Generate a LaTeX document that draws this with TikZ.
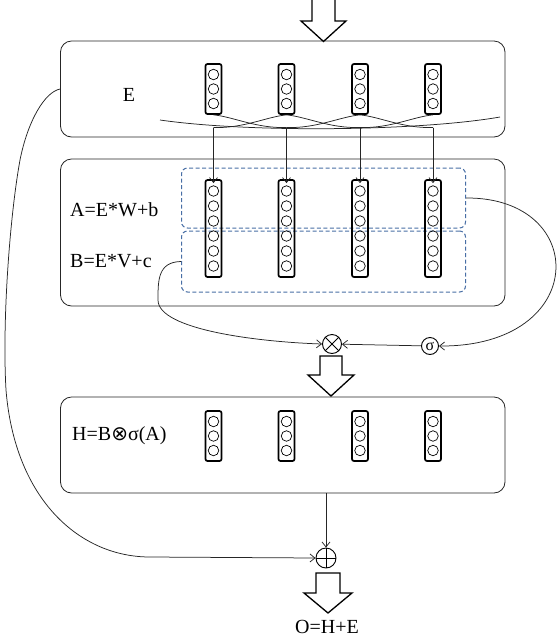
\documentclass[tikz,border=0pt]{standalone}
\usepackage{fontspec}
\setmainfont{Liberation Serif}
\newfontfamily\symfont{DejaVu Sans}
\usetikzlibrary{arrows.meta}
\definecolor{dblue}{RGB}{72,110,165}
\begin{document}
\begin{tikzpicture}[x=1pt,y=-1pt,
  blk/.style={draw=black!85, line width=0.8pt, rounded corners=11pt, minimum width=444.5pt, inner sep=0},
  dbox/.style={draw=dblue, line width=1pt, rounded corners=6pt, dash pattern=on 4pt off 2.5pt, minimum width=284pt, inner sep=0},
  vec/.style={draw=black, line width=1.7pt, rounded corners=2pt, minimum width=16pt, inner sep=0},
  neur/.style={draw, circle, line width=0.7pt, minimum size=10.5pt, inner sep=0},
  conn/.style={line width=0.75pt, draw=black!85},
  arr/.style={conn, -{Straight Barb[length=5pt,width=8pt]}},
  barrow/.style={draw=black, line width=1.3pt, fill=white, line join=miter},
  lbl/.style={font=\fontsize{20}{22}\selectfont, inner sep=0},
  opn/.style={draw, circle, line width=0.9pt, minimum size=19pt, inner sep=0},
]
\useasboundingbox (0,0) rectangle (558,638);

% boxes
\node[blk, minimum height=96pt] (b1) at (282.75,89) {};
\node[blk, minimum height=147pt] (b2) at (282.75,232.5) {};
\node[blk, minimum height=96pt] (b3) at (282.75,445) {};

% dashed groups
\node[dbox, minimum height=60pt] (dA) at (323.5,198) {};
\node[dbox, minimum height=61pt] (dB) at (323.5,261.5) {};

% labels
\node[lbl] (lE) at (129,95) {E};
\node[lbl, anchor=west] (lA) at (70,210) {A=E*W+b};
\node[lbl, anchor=west] (lB) at (70,261) {B=E*V+c};
\node[lbl, anchor=west] (lH) at (72,436) {H=B{\symfont ⊗}σ(A)};
\node[lbl] (lO) at (327,627) {O=H+E};

% vectors
\foreach \x [count=\i] in {213.5,286.5,360,433}{
  \node[vec, minimum height=50pt] (e\i) at (\x,89) {};
  \foreach \y in {74.5,89,103.5} \node[neur] at (\x,\y) {};
  \node[vec, minimum height=97pt] (m\i) at (\x,228.5) {};
  \foreach \y in {191,206,221,236,251,266} \node[neur] at (\x,\y) {};
  \node[vec, minimum height=50pt] (h\i) at (\x,436) {};
  \foreach \y in {421.5,436,450.5} \node[neur] at (\x,\y) {};
  \coordinate (t\i) at (\x,127.5);
  \draw[arr] (t\i) -- ([yshift=-4pt]m\i.north);
}

% crossing curves
\draw[conn] (160,120) .. controls (250,133) and (420,131) .. (500,117);
\foreach \i/\j in {1/2,2/3,3/4}{
  \draw[conn] (e\i.south) .. controls ([xshift=20pt,yshift=-2pt]e\i.south) and ([xshift=-30pt,yshift=-1pt]t\j) .. (t\j);
  \draw[conn] (e\j.south) .. controls ([xshift=-20pt,yshift=-2pt]e\j.south) and ([xshift=30pt,yshift=-1pt]t\i) .. (t\i);
}

% operators
\node[opn] (ot) at (332,344) {};
\draw[line width=0.9pt] (ot.north west) -- (ot.south east) (ot.north east) -- (ot.south west);
\node[opn, minimum size=17pt, font=\fontsize{16}{16}\selectfont] (sg) at (430,346) {σ};
\node[opn, minimum size=20pt] (pl) at (326,558) {};
\draw[line width=0.9pt] (pl.north) -- (pl.south) (pl.west) -- (pl.east);

% connectors
\draw[arr] (sg) -- (ot);
\draw[arr] (dA.east) .. controls (590,197) and (590,347) .. (sg.east);
\draw[arr] (dB.west) .. controls (158,262) and (158,280) .. (158,300) .. controls (158,330) and (260,342) .. (ot.west);
\draw[arr] (b1.west) .. controls (45,92) and (28,120) .. (20,160) .. controls (10,215) and (2,320) .. (6,390) .. controls (15,500) and (80,557) .. (150,557) -- (pl.west);
\draw[arr] (b3.south -| pl) -- (pl.north);

% block arrows
\draw[barrow] (312,-2) -- (312,21) -- (301,21) -- (323.5,41.5) -- (346,21) -- (335,21) -- (335,-2);
\draw[barrow] (320,356) -- (320,375) -- (308,375) -- (331,396) -- (354,375) -- (342,375) -- (342,356) -- cycle;
\draw[barrow] (316,573) -- (316,593) -- (304,593) -- (328,613) -- (352,593) -- (340,593) -- (340,573) -- cycle;
\end{tikzpicture}
\end{document}
